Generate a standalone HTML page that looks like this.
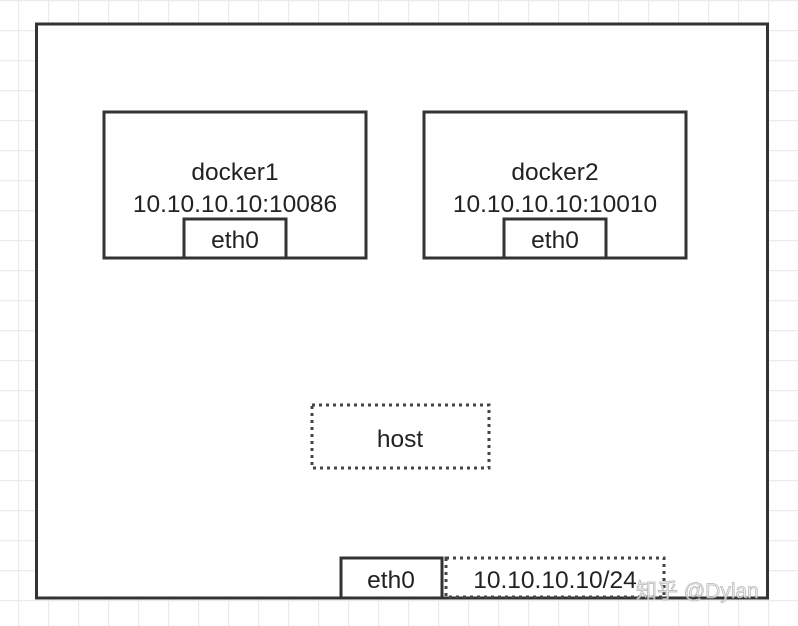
<!DOCTYPE html>
<html><head><meta charset="utf-8"><style>
html,body{margin:0;padding:0;background:#fff;}
svg{display:block;}
text{font-family:"Liberation Sans","Noto Sans CJK SC",sans-serif;fill:#222;}
</style></head><body>
<svg width="798" height="626" viewBox="0 0 798 626" xmlns="http://www.w3.org/2000/svg">
<defs>
<pattern id="g" x="18" y="0" width="30" height="30" patternUnits="userSpaceOnUse">
<path d="M0.5 0V30M0 0.5H30" stroke="#ebebeb" stroke-width="1.5" fill="none"/>
</pattern>
</defs>
<rect width="798" height="626" fill="url(#g)"/>
<rect x="36.5" y="24" width="731" height="574" fill="#fff" stroke="#333" stroke-width="3"/>
<g fill="none" stroke="#333" stroke-width="3">
<rect x="104" y="112" width="262" height="146"/>
<rect x="424" y="112" width="262" height="146"/>
<rect x="184" y="219" width="102" height="39"/>
<rect x="504" y="219" width="102" height="39"/>
<rect x="341" y="558" width="101" height="40"/>
</g>
<g fill="none" stroke="#444" stroke-width="3" stroke-dasharray="3 4">
<rect x="312" y="405" width="177" height="63"/>
<rect x="446" y="558" width="218" height="39"/>
</g>
<g font-size="24.5" text-anchor="middle">
<text x="235" y="180">docker1</text>
<text x="235" y="212">10.10.10.10:10086</text>
<text x="235" y="248">eth0</text>
<text x="555" y="180">docker2</text>
<text x="555" y="212">10.10.10.10:10010</text>
<text x="555" y="248">eth0</text>
<text x="400" y="447">host</text>
<text x="391" y="588">eth0</text>
<text x="555" y="588">10.10.10.10/24</text>
</g>
<text x="636" y="598" font-size="21" style="fill:#eee;opacity:0.85;stroke:#aaa;stroke-width:0.7">知乎 @Dylan</text>
</svg>
</body></html>
